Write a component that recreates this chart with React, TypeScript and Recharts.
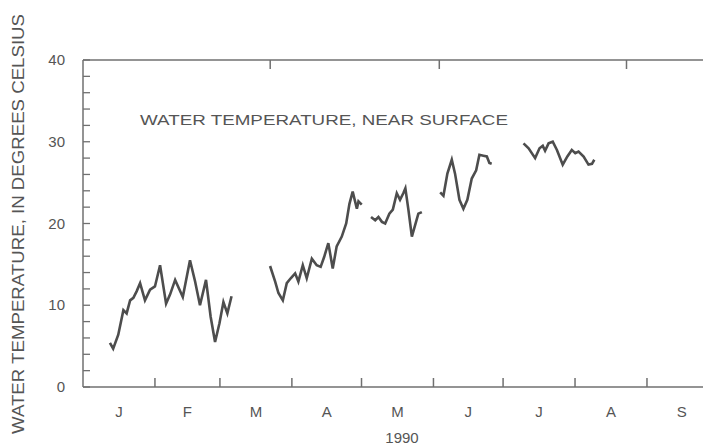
import { Line, LineChart, XAxis, YAxis } from 'recharts';

// day of year (0 = Jan 1) and temperature, null = gap in record
const days = [
  11.6, 13, 15.2, 17.4, 18.8, 20.3, 21.7, 23.1, 24.6, 26.7, 28.9, 31, 33.2, 35.8, 37.5, 39.7, 43, 46.1, 48.3, 50.4, 53, 55, 56.9, 58.8, 60.5, 62.2, 64,
  72,
  80.6, 82.8, 84.2, 86.1, 87.8, 89.5, 91.4, 92.8, 94.7, 96.4, 98.6, 100.7, 102.4, 103.9, 105.7, 107.6, 109.3, 111.5, 113.4, 114.8, 116.2, 118, 118.7, 120.1,
  122,
  124.1, 125.9, 127.3, 128.8, 130.2, 132, 133.5, 135.2, 136.6, 138, 138.9, 140.2, 141.7, 143.1, 144.5, 146,
  150,
  153.9, 155.3, 157, 158.9, 160.3, 162.2, 163.9, 165.6, 167.5, 169.4, 170.8, 172.5, 174, 175.1, 176.1,
  183,
  189.8, 192, 194.8, 196.7, 198.1, 199.1, 200.6, 202.4, 204.2, 206.7, 208.7, 210.6, 212.1, 213.5, 215.7, 217.8, 219.3, 220.3,
];
const temps = [
  5.4, 4.7, 6.4, 9.4, 9.0, 10.6, 10.9, 11.7, 12.7, 10.6, 11.9, 12.3, 14.9, 10.2, 11.3, 13.1, 11.0, 15.5, 12.9, 10.0, 13.1, 8.6, 5.5, 7.8, 10.4, 9.0, 11.1,
  null,
  14.8, 12.9, 11.5, 10.6, 12.7, 13.3, 13.9, 12.9, 14.9, 13.3, 15.7, 14.9, 14.7, 15.9, 17.6, 14.5, 17.2, 18.4, 20.0, 22.4, 23.9, 21.8, 22.7, 22.3,
  null,
  20.8, 20.4, 20.8, 20.2, 20.0, 21.2, 21.7, 23.7, 22.9, 23.7, 24.3, 21.7, 18.4, 19.8, 21.2, 21.4,
  null,
  23.8, 23.4, 26.1, 27.8, 26.1, 22.9, 21.8, 22.9, 25.5, 26.5, 28.4, 28.3, 28.2, 27.4, 27.3,
  null,
  29.8, 29.2, 28.0, 29.2, 29.5, 28.9, 29.8, 30.0, 29.0, 27.2, 28.2, 29.0, 28.6, 28.8, 28.2, 27.2, 27.3, 27.8,
];

const monthStarts = [31, 59, 90, 120, 151, 181, 212, 243];
const monthMids = [15.5, 45, 74.5, 105, 135.5, 166, 196.5, 227.5, 258];
const monthLabels = ['J', 'F', 'M', 'A', 'M', 'J', 'J', 'A', 'S'];
const yTicks = [0, 2, 4, 6, 8, 10, 12, 14, 16, 18, 20, 22, 24, 26, 28, 30, 32, 34, 36, 38, 40];
const yRightTicks = [10, 20, 30];

const rows = days.map((d, i) => ({ day: d, temp: temps[i] }));

const ink = '#555';
const axisInk = '#707070';
const font = '"Liberation Sans", Arial, Helvetica, sans-serif';

function BottomTick(props: any) {
  const { x, y, payload } = props;
  const i = monthMids.indexOf(payload.value);
  if (i >= 0) {
    return (
      <text x={x} y={y + 30} textAnchor="middle" fill={ink} fontSize={15} fontFamily={font}>
        {monthLabels[i]}
      </text>
    );
  }
  return <line x1={x} x2={x} y1={y} y2={y - 9} stroke={axisInk} strokeWidth={1.5} />;
}

function TopTick(props: any) {
  const { x, y } = props;
  return <line x1={x} x2={x} y1={y} y2={y + 9} stroke={axisInk} strokeWidth={1.5} />;
}

function LeftTick(props: any) {
  const { x, y, payload } = props;
  const major = payload.value % 10 === 0;
  return (
    <g>
      <line x1={x} x2={x + 7} y1={y} y2={y} stroke={axisInk} strokeWidth={1.3} />
      {major && (
        <text x={x - 18} y={y + 5} textAnchor="end" fill={ink} fontSize={15} fontFamily={font}>
          {payload.value}
        </text>
      )}
    </g>
  );
}

function RightTick(props: any) {
  const { x, y } = props;
  return <line x1={x} x2={x - 7} y1={y} y2={y} stroke={axisInk} strokeWidth={1.3} />;
}

export default function App() {
  return (
    <div style={{ width: 703, height: 448, overflow: 'hidden', background: '#fff' }}>
      <style>{'body{margin:0}'}</style>
      <LineChart width={706} height={448} data={rows} margin={{ top: 50, right: 0, bottom: 1, left: 0 }}>
        <XAxis
          dataKey="day"
          type="number"
          domain={[0, 268]}
          allowDataOverflow
          ticks={[...monthStarts, ...monthMids].sort((a, b) => a - b)}
          interval={0}
          height={60}
          tickSize={0}
          tickMargin={0}
          tickLine={false}
          tick={BottomTick}
          axisLine={{ stroke: axisInk, strokeWidth: 1.5 }}
          label={{ value: '1990', position: 'insideBottom', offset: 4, dx: 8, fill: ink, fontSize: 15, fontFamily: font }}
        />
        <XAxis
          xAxisId="top"
          orientation="top"
          type="number"
          domain={[0, 268]}
          allowDataOverflow
          ticks={monthStarts}
          interval={0}
          height={10}
          tickSize={0}
          tickMargin={0}
          tickLine={false}
          tick={TopTick}
          axisLine={{ stroke: axisInk, strokeWidth: 1.5 }}
        />
        <YAxis
          type="number"
          domain={[0, 40]}
          ticks={yTicks}
          interval={0}
          width={83}
          tickSize={0}
          tickMargin={0}
          tickLine={false}
          tick={LeftTick}
          axisLine={{ stroke: axisInk, strokeWidth: 1.5 }}
        />
        <YAxis
          yAxisId="r"
          orientation="right"
          type="number"
          domain={[0, 40]}
          ticks={yRightTicks}
          interval={0}
          width={1}
          tickSize={0}
          tickMargin={0}
          tickLine={false}
          tick={RightTick}
          axisLine={{ stroke: axisInk, strokeWidth: 1.5 }}
        />
        <text
          transform="rotate(-90)"
          x={-224}
          y={24}
          textAnchor="middle"
          fill={ink}
          fontSize={16}
          fontFamily={font}
          textLength={420}
          lengthAdjust="spacingAndGlyphs"
        >
          WATER TEMPERATURE, IN DEGREES CELSIUS
        </text>
        <text x={140} y={125} fill={ink} fontSize={15} fontFamily={font} textLength={368} lengthAdjust="spacingAndGlyphs">
          WATER TEMPERATURE, NEAR SURFACE
        </text>
        <Line
          dataKey="temp"
          type="linear"
          stroke="#4d4d4d"
          strokeWidth={2.6}
          dot={false}
          connectNulls={false}
          isAnimationActive={false}
        />
      </LineChart>
    </div>
  );
}
